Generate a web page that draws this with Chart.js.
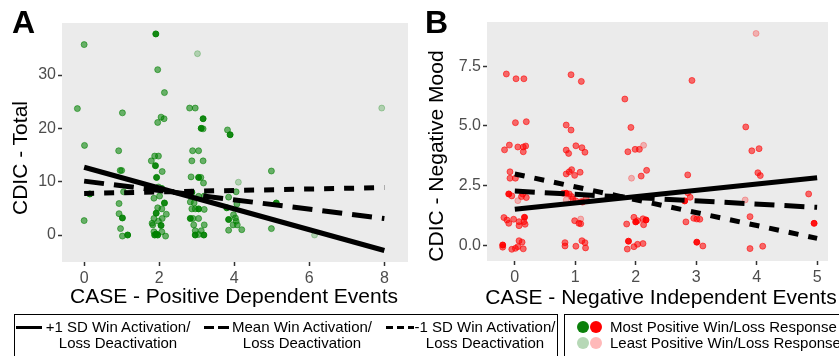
<!DOCTYPE html>
<html>
<head>
<meta charset="utf-8">
<script src="https://cdn.jsdelivr.net/npm/chart.js@4.4.1/dist/chart.umd.min.js"></script>
<style>
body{margin:0;width:839px;height:356px;overflow:hidden;background:#fff;position:relative;font-family:"Liberation Sans",Arial,sans-serif;color:#000}
.abs{position:absolute}
canvas{position:absolute;top:0}
.tag{font-weight:bold;font-size:32px;line-height:32px}
.ytitle{font-size:21px;white-space:nowrap;transform:translate(-50%,-50%) rotate(-90deg)}
.xtitle{font-size:21px;white-space:nowrap;transform:translate(-50%,-50%)}
.box{border:1px solid #000;height:60px;top:314px}
.lg{font-size:15px;line-height:16px;white-space:nowrap}
.lgc{text-align:center;width:170px}
.seg{height:2.5px;background:#000;top:326px}
.dot{width:12px;height:12px;border-radius:50%}
</style>
</head>
<body>
<canvas id="chartA" width="420" height="310" style="left:0"></canvas>
<canvas id="chartB" width="419" height="310" style="left:420px"></canvas>

<div class="abs tag" style="left:12px;top:6px">A</div>
<div class="abs tag" style="left:425px;top:6px">B</div>
<div class="abs ytitle" style="left:20px;top:158px">CDIC - Total</div>
<div class="abs ytitle" style="left:436px;top:156px">CDIC - Negative Mood</div>
<div class="abs xtitle" style="left:234px;top:296px">CASE - Positive Dependent Events</div>
<div class="abs xtitle" style="left:661px;top:297px">CASE - Negative Independent Events</div>

<div class="abs box" style="left:14px;width:542px"></div>
<div class="abs box" style="left:564px;width:300px"></div>

<div class="abs seg" style="left:16px;width:26px"></div>
<div class="abs seg" style="left:204px;width:10px"></div>
<div class="abs seg" style="left:218px;width:11px"></div>
<div class="abs seg" style="left:386px;width:7px"></div>
<div class="abs seg" style="left:397px;width:7px"></div>
<div class="abs seg" style="left:408px;width:6px"></div>
<div class="abs lg lgc" style="left:33px;top:319px">+1 SD Win Activation/<br>Loss Deactivation</div>
<div class="abs lg lgc" style="left:217px;top:319px">Mean Win Activation/<br>Loss Deactivation</div>
<div class="abs lg lgc" style="left:400px;top:319px">-1 SD Win Activation/<br>Loss Deactivation</div>

<div class="abs dot" style="left:577px;top:321px;background:#0b800b"></div>
<div class="abs dot" style="left:590px;top:321px;background:#ff0000"></div>
<div class="abs dot" style="left:577px;top:337px;background:#b6d8b6"></div>
<div class="abs dot" style="left:590px;top:337px;background:#ffb9b9"></div>
<div class="abs lg" style="left:610px;top:319px">Most Positive Win/Loss Response</div>
<div class="abs lg" style="left:610px;top:335px">Least Positive Win/Loss Response</div>

<script>
// panel A: CASE positive dependent events vs CDIC total
const aX = [0.00,1.91,1.96,2.14,-0.18,1.02,2.05,2.13,1.96,0.01,0.92,1.88,1.98,1.79,1.90,2.08,0.96,1.00,1.93,0.15,1.98,2.07,1.05,2.01,1.86,2.14,0.93,1.96,2.07,0.93,1.92,1.86,2.08,2.19,1.02,0.00,1.81,1.83,1.98,2.05,0.97,1.86,1.92,2.07,1.88,1.96,2.17,1.02,1.16,
  3.02,2.81,2.96,3.17,3.12,3.17,3.82,3.89,2.89,3.05,2.87,3.17,2.85,3.05,3.11,3.18,4.11,2.87,4.05,3.05,3.20,3.85,2.83,2.93,4.07,2.87,2.96,3.05,3.20,3.80,3.98,4.03,2.83,2.90,3.05,3.85,4.05,3.97,4.08,2.92,3.20,4.20,3.85,2.96,3.12,2.96,3.19,3.05,
  4.99,4.99,7.93,5.12,6.14];
const aY = [35.7,37.7,31.0,26.7,23.7,22.9,22.1,21.8,21.1,16.8,15.8,14.8,14.8,13.9,13.0,11.9,12.1,12.1,10.8,7.7,9.0,8.7,8.1,7.3,6.9,6.0,5.9,5.1,4.9,4.0,4.1,3.1,3.1,3.9,3.2,2.7,2.2,1.9,2.6,1.8,1.2,0.6,0.2,0.6,0.0,0.0,-0.2,-0.2,0.0,
  34.0,23.8,23.8,21.8,20.0,19.9,19.7,18.8,15.8,15.8,13.9,13.9,10.9,10.8,10.8,9.75,9.9,8.0,8.1,7.25,7.3,7.1,6.2,6.0,5.8,4.9,4.9,4.9,4.8,5.1,3.8,3.2,3.1,3.1,3.1,2.9,2.6,1.9,1.9,1.9,1.9,1.0,0.9,0.8,0.8,0.0,0.0,0.1,
  12.0,1.2,23.8,6.0,0.0];
// win/loss response level: 3 most positive, 1 least positive
const aResp = [2,3,2,2,2,2,2,2,2,2,2,2,2,2,3,2,2,2,3,3,2,3,2,2,2,3,2,2,2,2,3,2,2,2,3,2,2,2,2,3,2,2,3,2,3,3,2,2,3,
  1,2,2,3,3,2,2,3,2,2,2,2,2,3,2,2,1,3,2,2,2,2,2,2,2,2,2,3,2,3,2,2,3,2,2,3,2,2,2,2,2,2,2,2,2,3,3,2,
  2,2,1,3,1];
const aTicksX = [0,2,4,6,8];
const aTicksY = [0,10,20,30];
const aLineX = [0,8];
const aHigh = [12.7,-2.9];
const aMean = [10.1,3.1];
const aLow = [7.8,8.9];

// panel B: CASE negative independent events vs CDIC negative mood
const bX = [-0.14,0.02,0.15,0.01,0.19,-0.17,-0.09,0.05,0.14,0.18,0.14,-0.08,-0.08,0.01,-0.10,-0.05,0.13,0.19,0.11,0.05,-0.18,-0.13,-0.10,-0.02,0.07,0.07,0.16,0.15,0.17,-0.20,-0.20,-0.05,0.01,0.07,0.12,0.05,0.14,
  0.93,1.10,0.85,0.93,0.85,0.89,1.01,1.11,1.16,0.85,0.94,0.90,0.99,1.08,0.80,0.85,0.90,0.94,0.96,1.01,1.10,1.18,1.12,0.85,0.99,1.09,1.06,1.09,0.83,0.83,1.01,1.11,1.16,1.17,
  1.82,1.92,1.87,1.99,2.06,2.13,1.93,2.09,2.18,1.85,1.97,2.00,2.03,2.12,2.17,2.13,1.88,1.86,1.97,2.03,2.12,
  2.93,2.86,2.86,2.90,2.81,2.83,2.96,3.01,3.06,3.01,3.11,
  3.99,3.82,3.92,4.04,4.02,4.06,4.86,3.81,3.89,4.95,3.89,4.10];
const bY = [7.18,6.98,6.98,5.14,5.18,4.00,4.20,4.12,4.12,4.16,3.92,3.08,2.81,2.81,2.15,2.07,2.15,2.00,2.04,1.87,1.16,1.06,0.92,1.09,0.99,0.82,1.17,0.99,0.88,0.01,-0.08,-0.17,-0.13,0.19,0.13,-0.06,-0.15,
  7.15,6.87,5.04,4.83,3.99,3.85,4.17,4.09,3.90,2.99,3.17,3.08,2.93,3.06,2.18,2.18,2.15,2.04,1.94,1.86,1.83,1.97,1.81,1.90,1.03,1.10,0.92,0.90,0.11,-0.03,-0.04,0.19,0.11,-0.11,
  6.13,4.94,3.92,4.02,4.02,4.19,2.81,2.90,3.14,0.89,1.17,0.98,1.03,1.11,1.06,0.86,0.17,-0.16,-0.06,0.04,0.07,
  6.91,2.95,2.20,2.01,1.86,0.98,1.13,1.10,1.09,0.13,-0.03,
  8.88,4.96,3.96,4.05,3.04,2.92,2.15,1.90,1.20,0.92,-0.14,-0.04];
const bResp = [2,2,2,2,2,2,2,2,2,2,2,2,2,2,3,2,2,2,2,1,2,2,2,2,2,2,3,2,2,3,2,2,2,2,2,2,2,
  2,2,2,2,2,2,2,2,2,2,2,2,2,2,2,3,2,2,2,2,2,2,2,1,2,1,2,2,2,2,2,2,2,2,
  2,2,2,2,2,1,1,2,2,2,2,3,2,2,3,2,3,2,2,2,2,
  2,2,2,2,3,2,2,2,2,3,2,
  1,2,2,2,2,2,2,1,2,3,2,2];
const bTicksX = [0,1,2,3,4,5];
const bTicksY = [0,2.5,5,7.5];
const bTickLabelsY = ['0.0','2.5','5.0','7.5'];
const bLineX = [0,5];
const bHigh = [1.51,2.83];
const bMean = [2.27,1.59];
const bLow = [2.99,0.29];

const alphaFor = {3: 0.92, 2: 0.56, 1: 0.25};
const fontFam = '"Liberation Sans", Arial, sans-serif';

const panelBg = {
  id: 'panelBg',
  beforeDraw(chart) {
    const a = chart.chartArea;
    const ctx = chart.ctx;
    ctx.save();
    ctx.fillStyle = '#ebebeb';
    ctx.fillRect(a.left, a.top, a.right - a.left, a.bottom - a.top);
    ctx.restore();
  }
};

function lineSet(xs, ys, dash) {
  return {
    type: 'scatter',
    data: xs.map((x, i) => ({x: x, y: ys[i]})),
    showLine: true,
    borderColor: '#000',
    borderWidth: 5,
    borderDash: dash,
    borderCapStyle: 'butt',
    pointRadius: 0,
    order: 0
  };
}

function makePanel(id, p) {
  const colors = p.resp.map(r => `rgba(${p.rgb}, ${alphaFor[r]})`);
  const ctx = document.getElementById(id).getContext('2d');
  new Chart(ctx, {
    type: 'scatter',
    data: {
      datasets: [
        lineSet(p.lineX, p.high, []),
        lineSet(p.lineX, p.mean, [20, 10]),
        lineSet(p.lineX, p.low, [10, 10]),
        {
          data: p.xs.map((x, i) => ({x: x, y: p.ys[i]})),
          backgroundColor: colors,
          borderColor: colors,
          borderWidth: 1,
          pointRadius: 3,
          order: 1
        }
      ]
    },
    options: {
      responsive: false,
      animation: false,
      events: [],
      layout: {padding: {top: p.top, right: p.right, left: 0, bottom: 0}},
      plugins: {legend: {display: false}, tooltip: {enabled: false}},
      scales: {
        x: {
          type: 'linear', min: p.xmin, max: p.xmax,
          afterBuildTicks: s => { s.ticks = p.ticksX.map(v => ({value: v})); },
          afterFit: s => { s.height = p.xh; },
          grid: {drawOnChartArea: false, tickLength: 4, tickWidth: 1.5, tickColor: '#333'},
          border: {display: false},
          ticks: {color: '#4d4d4d', padding: 3, font: {size: 16, family: fontFam}, maxRotation: 0}
        },
        y: {
          type: 'linear', min: p.ymin, max: p.ymax,
          afterBuildTicks: s => { s.ticks = p.ticksY.map(v => ({value: v})); },
          afterFit: s => { s.width = p.yw; },
          grid: {drawOnChartArea: false, tickLength: 4, tickWidth: 1.5, tickColor: '#333'},
          border: {display: false},
          ticks: {color: '#4d4d4d', padding: 2, font: {size: 16, family: fontFam},
            callback: (v, i) => p.labelsY ? p.labelsY[i] : String(v)}
        }
      }
    },
    plugins: [panelBg]
  });
}

makePanel('chartA', {
  xs: aX, ys: aY, resp: aResp, rgb: '0, 128, 0',
  lineX: aLineX, high: aHigh, mean: aMean, low: aLow,
  ticksX: aTicksX, ticksY: aTicksY, labelsY: null,
  xmin: -0.59, xmax: 8.63, ymin: -5.06, ymax: 39.75,
  top: 23, right: 12, xh: 48, yw: 62
});

makePanel('chartB', {
  xs: bX, ys: bY, resp: bResp, rgb: '255, 0, 0',
  lineX: bLineX, high: bHigh, mean: bMean, low: bLow,
  ticksX: bTicksX, ticksY: bTicksY, labelsY: bTickLabelsY,
  xmin: -0.46, xmax: 5.18, ymin: -0.66, ymax: 9.36,
  top: 22, right: 11, xh: 49, yw: 67
});
</script>
</body>
</html>
